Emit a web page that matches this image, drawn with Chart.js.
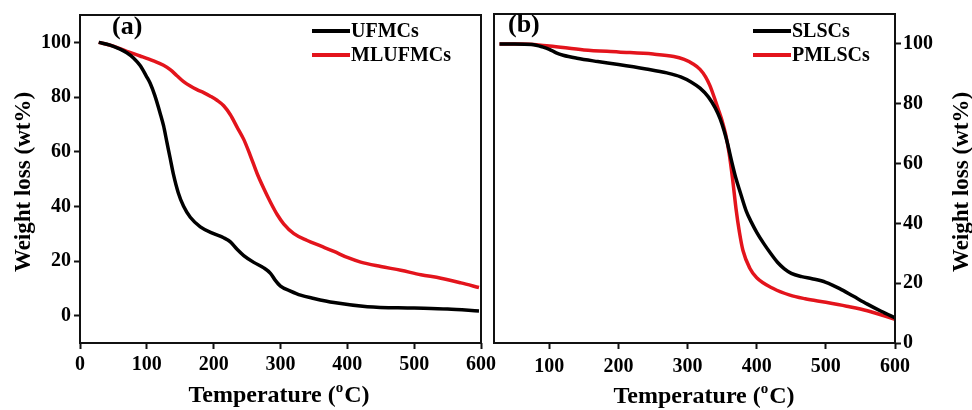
<!DOCTYPE html>
<html>
<head>
<meta charset="utf-8">
<script src="https://cdn.jsdelivr.net/npm/chart.js@4.4.0/dist/chart.umd.min.js"></script>
<style>
  html, body { margin: 0; padding: 0; background: #fff; }
  #wrap { position: relative; width: 972px; height: 410px; overflow: hidden; }
  #chartA { position: absolute; left: 0; top: 0; }
  #chartB { position: absolute; left: 480px; top: 0; }
</style>
</head>
<body>
<div id="wrap">
  <canvas id="chartA" width="500" height="410"></canvas>
  <canvas id="chartB" width="492" height="410"></canvas>
</div>
<script>
// ---- data ----
// panel (a)
const ufmcTemp   = [28, 45, 60, 70, 80, 90, 100, 105, 112, 120, 125, 130, 135, 140, 147, 155, 165, 180, 200, 215, 225, 235, 245, 260, 275, 285, 292, 300, 315, 330, 350, 380, 430, 500, 550, 597];
const ufmcWeight = [100, 99, 97.5, 96.2, 94.3, 91.5, 87.3, 85, 80.5, 74, 69.5, 63.5, 57.5, 51.5, 45, 40, 36, 32.5, 30, 28.5, 27, 24.3, 22, 19.5, 17.5, 15.5, 13, 10.8, 9, 7.5, 6.3, 4.8, 3.3, 2.8, 2.4, 1.7];

const mlufmcTemp   = [28, 50, 70, 90, 110, 125, 135, 145, 155, 165, 175, 185, 195, 205, 215, 225, 235, 245, 255, 265, 275, 285, 295, 305, 320, 340, 360, 380, 400, 420, 450, 480, 510, 540, 570, 597];
const mlufmcWeight = [100, 98.6, 96.7, 95, 93.2, 91.6, 90, 87.8, 85.6, 84, 82.7, 81.6, 80.3, 78.8, 76.8, 73.5, 69, 64.5, 58.5, 52, 46.5, 41.5, 37, 33.5, 30, 27.5, 25.5, 23.5, 21.3, 19.6, 18, 16.6, 15, 13.7, 12, 10.3];

// panel (b)
const slscTemp   = [28, 50, 75, 90, 100, 110, 120, 140, 170, 200, 240, 270, 290, 305, 318, 330, 340, 347, 353, 358, 364, 370, 376, 385, 392, 400, 410, 420, 430, 440, 450, 465, 480, 500, 520, 540, 560, 580, 600];
const slscWeight = [100, 100, 99.8, 99, 98.2, 97, 96.2, 95.2, 94.1, 93.1, 91.6, 90.3, 89, 87.3, 85.2, 82.3, 78.6, 75, 70.8, 66.5, 60.5, 55, 50.5, 44, 40.5, 37, 33.3, 30, 27, 24.8, 23.3, 22.2, 21.5, 20.3, 18.2, 15.6, 13, 10.6, 8.4];

const pmlscTemp   = [28, 60, 100, 150, 200, 250, 280, 295, 308, 318, 326, 332, 338, 344, 350, 355, 360, 365, 370, 375, 380, 390, 400, 424, 448, 470, 500, 530, 560, 600];
const pmlscWeight = [100, 100, 99.3, 98, 97.3, 96.6, 95.8, 94.8, 93.3, 91.5, 89, 86.2, 82.5, 78.4, 74.2, 69.8, 63.5, 55, 45, 37, 31, 25, 21.8, 18.2, 16, 14.8, 13.6, 12.3, 10.8, 7.9];

// tick labels
const tempTicksA = [0, 100, 200, 300, 400, 500, 600];
const tempTicksB = [100, 200, 300, 400, 500, 600];
const weightTicks = [0, 20, 40, 60, 80, 100];

const serif = '"Liberation Serif", "Times New Roman", serif';
const ink = '#111';
const red = '#e3141c';

function toPoints(xs, ys) {
  return xs.map((x, i) => ({ x: x, y: ys[i] }));
}

// frame, panel letter, legend and axis titles
const decorPlugin = {
  id: 'decor',
  afterDatasetsDraw(chart, args, opts) {
    const ctx = chart.ctx;
    const a = chart.chartArea;
    ctx.save();
    ctx.lineWidth = 2;
    ctx.strokeStyle = ink;
    ctx.strokeRect(a.left, a.top, a.right - a.left, a.bottom - a.top);

    ctx.fillStyle = '#000';
    ctx.textAlign = 'left';
    ctx.textBaseline = 'middle';
    ctx.font = 'bold 26px ' + serif;
    ctx.fillText(opts.label, opts.labelX, opts.labelY);

    // legend
    ctx.font = 'bold 20px ' + serif;
    chart.data.datasets.forEach((ds, i) => {
      const y = opts.legendY + i * opts.legendGap;
      ctx.strokeStyle = ds.borderColor;
      ctx.lineWidth = 4;
      ctx.beginPath();
      ctx.moveTo(opts.legendX, y);
      ctx.lineTo(opts.legendX + 38, y);
      ctx.stroke();
      ctx.fillText(ds.label, opts.legendX + 39, y + 1);
    });

    // x title with superscript o
    ctx.textBaseline = 'alphabetic';
    const big = 'bold 24px ' + serif, small = 'bold 15px ' + serif;
    ctx.font = big;
    const w1 = ctx.measureText('Temperature (').width;
    const w3 = ctx.measureText('C)').width;
    ctx.font = small;
    const w2 = ctx.measureText('o').width + 1;
    let x = opts.xTitleX - (w1 + w2 + w3) / 2;
    ctx.font = big;
    ctx.fillText('Temperature (', x, opts.xTitleY);
    ctx.font = small;
    ctx.fillText('o', x + w1, opts.xTitleY - 10);
    ctx.font = big;
    ctx.fillText('C)', x + w1 + w2, opts.xTitleY);

    // y title, reading bottom to top
    ctx.translate(opts.yTitleX, opts.yTitleY);
    ctx.rotate(-Math.PI / 2);
    ctx.textAlign = 'center';
    ctx.textBaseline = 'middle';
    ctx.font = 'bold 23px ' + serif;
    ctx.fillText('Weight loss (wt%)', 0, 0);
    ctx.restore();
  }
};

function axisStyle(tickValues, padding) {
  return {
    afterBuildTicks: s => { s.ticks = tickValues.map(v => ({ value: v })); },
    grid: { display: true, drawOnChartArea: false, drawTicks: true, tickLength: 6, tickWidth: 2, tickColor: ink },
    border: { display: false },
    ticks: { color: '#000', padding: padding, autoSkip: false, maxRotation: 0,
             font: { family: serif, size: 20, weight: 'bold' } }
  };
}

function lineSet(label, color, xs, ys) {
  return {
    label: label,
    data: toPoints(xs, ys),
    borderColor: color,
    borderWidth: 3.5,
    pointRadius: 0,
    cubicInterpolationMode: 'monotone',
    fill: false
  };
}

// panel (a)
new Chart(document.getElementById('chartA'), {
  type: 'line',
  data: {
    datasets: [
      lineSet('UFMCs', '#000', ufmcTemp, ufmcWeight),
      lineSet('MLUFMCs', red, mlufmcTemp, mlufmcWeight)
    ]
  },
  options: {
    responsive: false,
    animation: false,
    layout: { padding: { left: 0, top: 12, right: 19, bottom: 0 } },
    plugins: {
      legend: { display: false },
      tooltip: { enabled: false },
      decor: { label: '(a)', labelX: 112, labelY: 27, legendX: 312, legendY: 31, legendGap: 24,
               xTitleX: 279, xTitleY: 402, yTitleX: 24, yTitleY: 182 }
    },
    scales: {
      x: Object.assign(axisStyle(tempTicksA, 4), {
        type: 'linear', min: 0, max: 600,
        afterFit: s => { s.height = 410 - 343; }
      }),
      y: Object.assign(axisStyle(weightTicks, 3), {
        min: -10, max: 110,
        afterFit: s => { s.width = 80; }
      })
    }
  },
  plugins: [decorPlugin]
});

// panel (b)
new Chart(document.getElementById('chartB'), {
  type: 'line',
  data: {
    datasets: [
      lineSet('SLSCs', '#000', slscTemp, slscWeight),
      lineSet('PMLSCs', red, pmlscTemp, pmlscWeight)
    ]
  },
  options: {
    responsive: false,
    animation: false,
    layout: { padding: { left: 14, top: 12, right: 0, bottom: 0 } },
    plugins: {
      legend: { display: false },
      tooltip: { enabled: false },
      decor: { label: '(b)', labelX: 28, labelY: 25, legendX: 273, legendY: 31, legendGap: 24,
               xTitleX: 224, xTitleY: 403, yTitleX: 482, yTitleY: 182 }
    },
    scales: {
      x: Object.assign(axisStyle(tempTicksB, 6), {
        type: 'linear', min: 20, max: 600,
        afterFit: s => { s.height = 410 - 343; }
      }),
      y: Object.assign(axisStyle(weightTicks, 2), {
        position: 'right', min: 0, max: 110,
        afterFit: s => { s.width = 77; }
      })
    }
  },
  plugins: [decorPlugin]
});
</script>
</body>
</html>
